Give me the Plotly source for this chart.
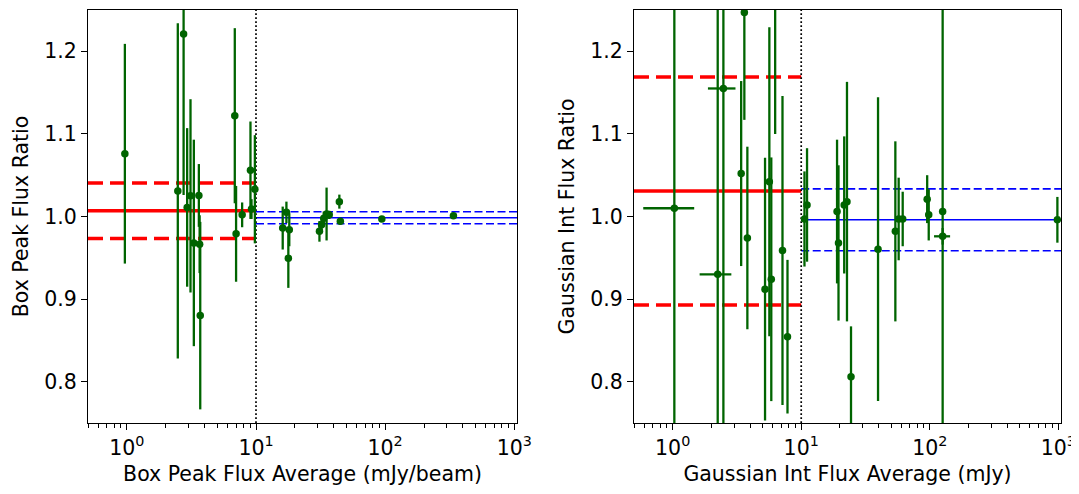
import math
import plotly.graph_objects as go

# ---------------- data ----------------
# Left panel: Box Peak flux
left_x = [0.965, 2.48, 2.75, 2.93, 3.11, 3.30, 3.61, 3.66, 3.70, 6.85, 7.01, 7.81, 9.06, 9.23, 9.80,
          16.1, 17.2, 18.1, 17.8, 31.0, 32.2, 33.5, 35.2, 36.9, 44.2, 45.0, 94.3, 338.0]
left_y = [1.076, 1.031, 1.221, 1.011, 1.025, 0.968, 1.0255, 0.9665, 0.880, 1.122, 0.979, 1.002, 1.056, 1.009, 1.033,
          0.986, 1.005, 0.984, 0.9496, 0.982, 0.990, 0.998, 1.003, 1.002, 1.018, 0.9944, 0.997, 1.001]
left_yerr = [0.133, 0.203, 0.195, 0.096, 0.117, 0.125, 0.038, 0.035, 0.1135, 0.106, 0.058, 0.015, 0.059, 0.012, 0.0655,
             0.026, 0.013, 0.02, 0.036, 0.0125, 0.008, 0.008, 0.032, 0.005, 0.0085, 0.004, 0.003, 0.002]

# Right panel: Gaussian integrated flux
right_x = [1.03, 2.24, 2.48, 3.41, 3.61, 3.81, 5.23, 5.65, 5.85, 6.27, 7.15, 7.82,
           10.6, 11.1, 19.0, 19.5, 21.6, 22.7, 24.4, 39.6, 54.0, 57.3, 61.6, 95.5, 98.2, 126.0, 126.0, 984.0]
right_y = [1.010, 0.930, 1.155, 1.052, 1.247, 0.974, 0.912, 1.042, 0.924, 1.27, 0.9588, 0.8545,
           0.997, 1.014, 1.006, 0.968, 1.014, 1.018, 0.806, 0.9605, 0.982, 0.997, 0.997, 1.021, 1.002, 1.006, 0.976, 0.996]
right_yerr = [0.35, 0.40, 0.50, 0.112, 0.13, 0.1105, 0.159, 0.187, 0.1475, 0.17, 0.187, 0.093,
              0.0576, 0.0687, 0.087, 0.094, 0.083, 0.145, 0.061, 0.184, 0.109, 0.05, 0.033, 0.029, 0.031, 0.30, 0.01, 0.0277]
right_xerr = [0.44, 0.62, 0.60, 0, 0, 0, 0, 0, 0, 0, 0, 0,
              0, 0, 0, 0, 0, 0, 0, 0, 0, 0, 0, 0, 0, 0, 18.0, 0]

# summary lines (mean, spread) below / above 10 mJy
left_low_mean, left_low_sd = 1.007, 0.0335
left_high_mean, left_high_sd = 0.9985, 0.0073
right_low_mean, right_low_sd = 1.031, 0.138
right_high_mean, right_high_sd = 0.996, 0.0375

split_x = 10.0
x_min, x_max = 0.5, 1050.0
y_min, y_max = 0.75, 1.25

major_vals = [1, 10, 100, 1000]
major_text = ["10<sup>0</sup>", "10<sup>1</sup>", "10<sup>2</sup>", "10<sup>3</sup>"]
minor_vals = [m * d for d in [0.1, 1, 10, 100] for m in range(2, 10)]
y_ticks = [0.8, 0.9, 1.0, 1.1, 1.2]

x_titles = ["Box Peak Flux Average (mJy/beam)", "Gaussian Int Flux Average (mJy)"]
y_titles = ["Box Peak Flux Ratio", "Gaussian Int Flux Ratio"]

GREEN = "#006400"
RED = "#ff0000"
BLUE = "#0000ff"
FONT = "DejaVu Sans"
TICK_SIZE = 20.5
TITLE_SIZE = 20.5

fig = go.Figure()


def add_panel(xa, ya, xs, ys, yerr, xerr, low_mean, low_sd, high_mean, high_sd):
    # red lines (below split)
    fig.add_trace(go.Scatter(x=[x_min, split_x], y=[low_mean, low_mean], mode="lines",
                             line=dict(color=RED, width=3.5), xaxis=xa, yaxis=ya, showlegend=False, hoverinfo="skip"))
    for s in (-1, 1):
        v = low_mean + s * low_sd
        fig.add_trace(go.Scatter(x=[x_min, split_x], y=[v, v], mode="lines",
                                 line=dict(color=RED, width=3.5, dash="15px,7px"), xaxis=xa, yaxis=ya,
                                 showlegend=False, hoverinfo="skip"))
    # blue lines (above split)
    fig.add_trace(go.Scatter(x=[split_x, x_max], y=[high_mean, high_mean], mode="lines",
                             line=dict(color=BLUE, width=1.6), xaxis=xa, yaxis=ya, showlegend=False, hoverinfo="skip"))
    for s in (-1, 1):
        v = high_mean + s * high_sd
        fig.add_trace(go.Scatter(x=[split_x, x_max], y=[v, v], mode="lines",
                                 line=dict(color=BLUE, width=1.6, dash="8px,3.5px"), xaxis=xa, yaxis=ya,
                                 showlegend=False, hoverinfo="skip"))
    # dotted divider
    fig.add_trace(go.Scatter(x=[split_x, split_x], y=[y_min, y_max], mode="lines",
                             line=dict(color="black", width=1.7, dash="1.7px,2.3px"), xaxis=xa, yaxis=ya,
                             showlegend=False, hoverinfo="skip"))
    # data
    ex = None
    if xerr is not None:
        ex = dict(type="data", array=xerr, color=GREEN, thickness=2.3, width=0)
    fig.add_trace(go.Scatter(x=xs, y=ys, mode="markers",
                             marker=dict(color=GREEN, size=7.5),
                             error_y=dict(type="data", array=yerr, color=GREEN, thickness=2.3, width=0),
                             error_x=ex, xaxis=xa, yaxis=ya, showlegend=False))


add_panel("x", "y", left_x, left_y, left_yerr, None,
          left_low_mean, left_low_sd, left_high_mean, left_high_sd)
add_panel("x2", "y2", right_x, right_y, right_yerr, right_xerr,
          right_low_mean, right_low_sd, right_high_mean, right_high_sd)

x_common = dict(type="log", range=[math.log10(x_min), math.log10(x_max)], automargin=False,
                tickvals=major_vals, ticktext=major_text, ticks="outside", ticklen=6, tickwidth=1,
                tickcolor="black", showline=True, linecolor="black", linewidth=1, mirror=True,
                showgrid=False, zeroline=False,
                tickfont=dict(family=FONT, size=TICK_SIZE, color="black"),
                minor=dict(tickvals=minor_vals, ticks="outside", ticklen=3.5, tickwidth=1, tickcolor="black",
                           showgrid=False))
y_common = dict(range=[y_min, y_max], tickvals=y_ticks, tickformat=".1f", ticks="outside", ticklen=6,
                tickwidth=1, tickcolor="black", showline=True, linecolor="black", linewidth=1, mirror=True,
                showgrid=False, zeroline=False, automargin=False,
                tickfont=dict(family=FONT, size=TICK_SIZE, color="black"))

# the page body has an 8px margin, so the figure is laid out 8px smaller and shifted
OFF = 8
W, H = 1079 - OFF, 494 - OFF
top_px, bot_px = 10 - OFF, 423 - OFF
ydom = [(H - bot_px) / H, (H - top_px) / H]

fig.update_layout(
    width=W, height=H,
    margin=dict(l=0, r=0, t=0, b=0),
    paper_bgcolor="white", plot_bgcolor="white",
    font=dict(family=FONT, size=TICK_SIZE, color="black"),
    xaxis=dict(domain=[(88 - OFF) / W, (517 - OFF) / W], anchor="y",
               title=dict(text=x_titles[0], font=dict(family=FONT, size=TITLE_SIZE), standoff=8), **x_common),
    yaxis=dict(domain=ydom, anchor="x",
               title=dict(text=y_titles[0], font=dict(family=FONT, size=TITLE_SIZE), standoff=10), **y_common),
    xaxis2=dict(domain=[(634 - OFF) / W, (1061 - OFF) / W], anchor="y2",
                title=dict(text=x_titles[1], font=dict(family=FONT, size=TITLE_SIZE), standoff=8), **x_common),
    yaxis2=dict(domain=ydom, anchor="x2",
                title=dict(text=y_titles[1], font=dict(family=FONT, size=TITLE_SIZE), standoff=10), **y_common),
)

fig.write_html("out.html")
